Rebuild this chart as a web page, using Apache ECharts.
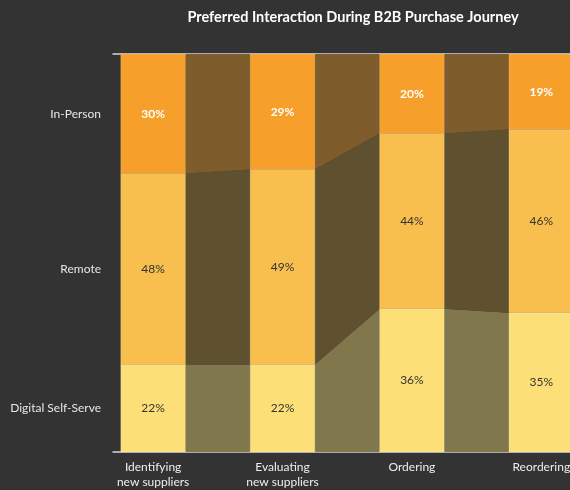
<!DOCTYPE html>
<html><head><meta charset="utf-8">
<script src="https://cdn.jsdelivr.net/npm/echarts@6/dist/echarts.min.js"></script>
<style>html,body{margin:0;padding:0;background:#333;}#c{width:570px;height:490px;}</style>
</head><body><div id="c"></div>
<script>
var categories = ['Identifying\nnew suppliers', 'Evaluating\nnew suppliers', 'Ordering', 'Reordering'];
var segmentNames = ['Digital Self-Serve', 'Remote', 'In-Person'];
var digital = [22, 22, 36, 35];
var remote = [48, 49, 44, 46];
var inPerson = [30, 29, 20, 19];
var segmentValues = [digital, remote, inPerson];
var barColors = ['#FDDF77', '#F9BF4E', '#F69F2A'];
var bandColors = ['#80774C', '#5F5030', '#7E5C2C'];
var labelColors = ['#333333', '#333333', '#ffffff'];
var HW = 0.25;

// cumulative bounds
var bounds = segmentValues.map(function () { return []; });
for (var i = 0; i < categories.length; i++) {
  var acc = 0;
  for (var s = 0; s < segmentValues.length; s++) {
    bounds[s].push([acc, acc + segmentValues[s][i]]);
    acc += segmentValues[s][i];
  }
}

var series = [];
segmentValues.forEach(function (vals, s) {
  var bandData = [];
  for (var i = 0; i < categories.length - 1; i++) {
    bandData.push([i, bounds[s][i][0], bounds[s][i][1], bounds[s][i + 1][0], bounds[s][i + 1][1]]);
  }
  series.push({
    type: 'custom', name: segmentNames[s] + ' flow', silent: true, z: 1,
    data: bandData,
    renderItem: function (params, api) {
      var x = api.value(0);
      var pts = [
        api.coord([x + HW, api.value(2)]),
        api.coord([x + 1 - HW, api.value(4)]),
        api.coord([x + 1 - HW, api.value(3)]),
        api.coord([x + HW, api.value(1)])
      ];
      return { type: 'polygon', shape: { points: pts }, style: { fill: bandColors[s] } };
    }
  });
  var barData = [];
  for (var i = 0; i < categories.length; i++) {
    barData.push([i, bounds[s][i][0], bounds[s][i][1], vals[i]]);
  }
  series.push({
    type: 'custom', name: segmentNames[s], silent: true, z: 2,
    data: barData,
    renderItem: function (params, api) {
      var x = api.value(0);
      var p1 = api.coord([x - HW, api.value(2)]);
      var p2 = api.coord([x + HW, api.value(1)]);
      return {
        type: 'rect',
        shape: { x: p1[0], y: p1[1], width: p2[0] - p1[0], height: p2[1] - p1[1] },
        style: { fill: barColors[s], stroke: 'rgba(255,255,255,0.18)', lineWidth: 1 },
        textContent: {
          style: { text: api.value(3) + '%', fill: labelColors[s], fontSize: 12, fontFamily: 'Lato', fontWeight: s === 2 ? 'bold' : 'normal' }
        },
        textConfig: { position: 'inside' }
      };
    }
  });
});

var yLabelValues = [];
var acc0 = 0;
for (var s = 0; s < segmentValues.length; s++) {
  yLabelValues.push(acc0 + segmentValues[s][0] / 2);
  acc0 += segmentValues[s][0];
}

var chart = echarts.init(document.getElementById('c'));
chart.setOption({
  backgroundColor: '#333333',
  animation: false,
  title: {
    text: 'Preferred Interaction During B2B Purchase Journey',
    left: 348, top: 5, textAlign: 'center',
    textStyle: { color: '#ffffff', fontSize: 14.5, fontWeight: 'bold', fontFamily: 'Lato' }
  },
  grid: { left: 113, top: 54, width: 493, height: 398, outerBoundsMode: 'none', containLabel: false },
  xAxis: [{
    type: 'value', min: -0.31, max: 3.5, position: 'bottom',
    axisLine: { show: true, onZero: false, lineStyle: { color: '#d8d8d8', width: 1.5 } },
    axisTick: { show: false }, splitLine: { show: false },
    axisLabel: {
      customValues: categories.map(function (c, i) { return i; }),
      formatter: function (v) { return categories[Math.round(v)]; },
      color: '#eeeeee', fontSize: 12, fontFamily: 'Lato', lineHeight: 15, margin: 8
    }
  }, {
    type: 'value', min: -0.31, max: 3.5, position: 'top',
    axisLine: { show: true, onZero: false, lineStyle: { color: '#d8d8d8', width: 1.5 } },
    axisTick: { show: false }, splitLine: { show: false }, axisLabel: { show: false }
  }],
  yAxis: {
    type: 'value', min: 0, max: 100,
    axisLine: { show: false }, axisTick: { show: false }, splitLine: { show: false },
    axisLabel: {
      customValues: yLabelValues,
      formatter: function (v) {
        for (var k = 0; k < yLabelValues.length; k++) { if (Math.abs(yLabelValues[k] - v) < 1e-6) return segmentNames[k]; }
        return '';
      },
      color: '#e6e6e6', fontSize: 12, fontFamily: 'Lato', margin: 12
    }
  },
  series: series
});
</script></body></html>
